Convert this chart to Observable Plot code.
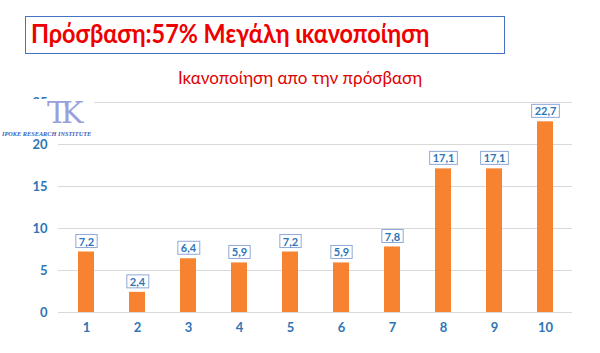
<!DOCTYPE html>
<html><head><meta charset="utf-8">
<script src="https://cdn.jsdelivr.net/npm/d3@7"></script>
<script src="https://cdn.jsdelivr.net/npm/@observablehq/plot@0.6"></script>
<style>
body{margin:0;background:#fff;font-family:Lato,"Open Sans",sans-serif;}
#wrap{position:relative;width:600px;height:353px;overflow:hidden;}
#title{position:absolute;left:25px;top:16px;width:478px;height:36px;border:1.5px solid #4472c4;box-sizing:content-box;}
#title span{position:absolute;left:5px;top:0px;font:bold 26px Lato,"Open Sans",sans-serif;color:#ee0000;white-space:nowrap;transform:scaleX(0.9);transform-origin:0 50%;}
#sub{position:absolute;left:0;top:67px;width:600px;text-align:center;font:17px Lato,"Open Sans",sans-serif;color:#e00000;}
#chart{position:absolute;left:0;top:90px;}
#logo{position:absolute;left:0;top:99px;width:94px;height:39px;background:#fff;}
#logo .mk{position:absolute;left:47px;top:-4px;font:30px "DejaVu Serif",serif;color:#9aa0dc;letter-spacing:-6px;}
#logo .tx{position:absolute;left:2px;top:31px;font:italic bold 6.3px "Liberation Serif",serif;color:#3a5fc0;white-space:nowrap;}
</style></head>
<body><div id="wrap">
<div id="title"><span>Πρόσβαση:57% Μεγάλη ικανοποίηση</span></div>
<div id="sub">Ικανοποίηση απο την πρόσβαση</div>
<div id="chart"></div>
<div id="logo"><div class="mk">ΤΚ</div><div class="tx">IPOKE RESEARCH INSTITUTE</div></div>
</div>
<script>
const categories = ["1","2","3","4","5","6","7","8","9","10"];
const values = [7.2, 2.4, 6.4, 5.9, 7.2, 5.9, 7.8, 17.1, 17.1, 22.7];
const yTicks = [0, 5, 10, 15, 20, 25];

const data = categories.map((c, i) => ({cat: c, v: values[i]}));
const blue = "#2e75b6";
const fmt = d => d.toFixed(1).replace(".", ",");

const chart = Plot.plot({
  width: 600, height: 263,
  marginTop: 12, marginBottom: 41, marginLeft: 58, marginRight: 28,
  style: {fontFamily: "Lato, 'Open Sans', sans-serif", background: "transparent"},
  x: {domain: categories, paddingInner: 0.69, paddingOuter: 0.365, label: null, tickSize: 0, tickPadding: 10},
  y: {domain: [0, 25], ticks: yTicks, label: null, tickSize: 0, tickPadding: 11},
  marks: [
    Plot.gridY(yTicks, {stroke: "#d9d9d9", strokeOpacity: 1, strokeWidth: 1}),
    Plot.axisY({ticks: yTicks, tickSize: 0, tickPadding: 11, fill: blue, fontWeight: "bold", fontSize: 13, label: null}),
    Plot.axisX({tickSize: 0, tickPadding: 10, fill: blue, fontWeight: "bold", fontSize: 13, label: null}),
    Plot.barY(data, {x: "cat", y: "v", fill: "#f7822f"}),
    Plot.text(data, {x: "cat", y: "v", text: d => fmt(d.v), dy: -10, fill: blue, fontWeight: "bold", fontSize: 11, className: "vlab"})
  ]
});
document.getElementById("chart").appendChild(chart);

// draw boxes behind the value labels
document.querySelectorAll(".vlab text").forEach(t => {
  const b = t.getBBox();
  const r = document.createElementNS("http://www.w3.org/2000/svg", "rect");
  r.setAttribute("x", b.x - 3);
  r.setAttribute("y", b.y);
  r.setAttribute("width", b.width + 6);
  r.setAttribute("height", b.height);
  r.setAttribute("fill", "#fff");
  r.setAttribute("stroke", "#8fa8d8");
  r.setAttribute("stroke-width", 1);
  const tr = t.getAttribute("transform");
  if (tr) r.setAttribute("transform", tr);
  t.parentNode.insertBefore(r, t);
});
</script>
</body></html>
